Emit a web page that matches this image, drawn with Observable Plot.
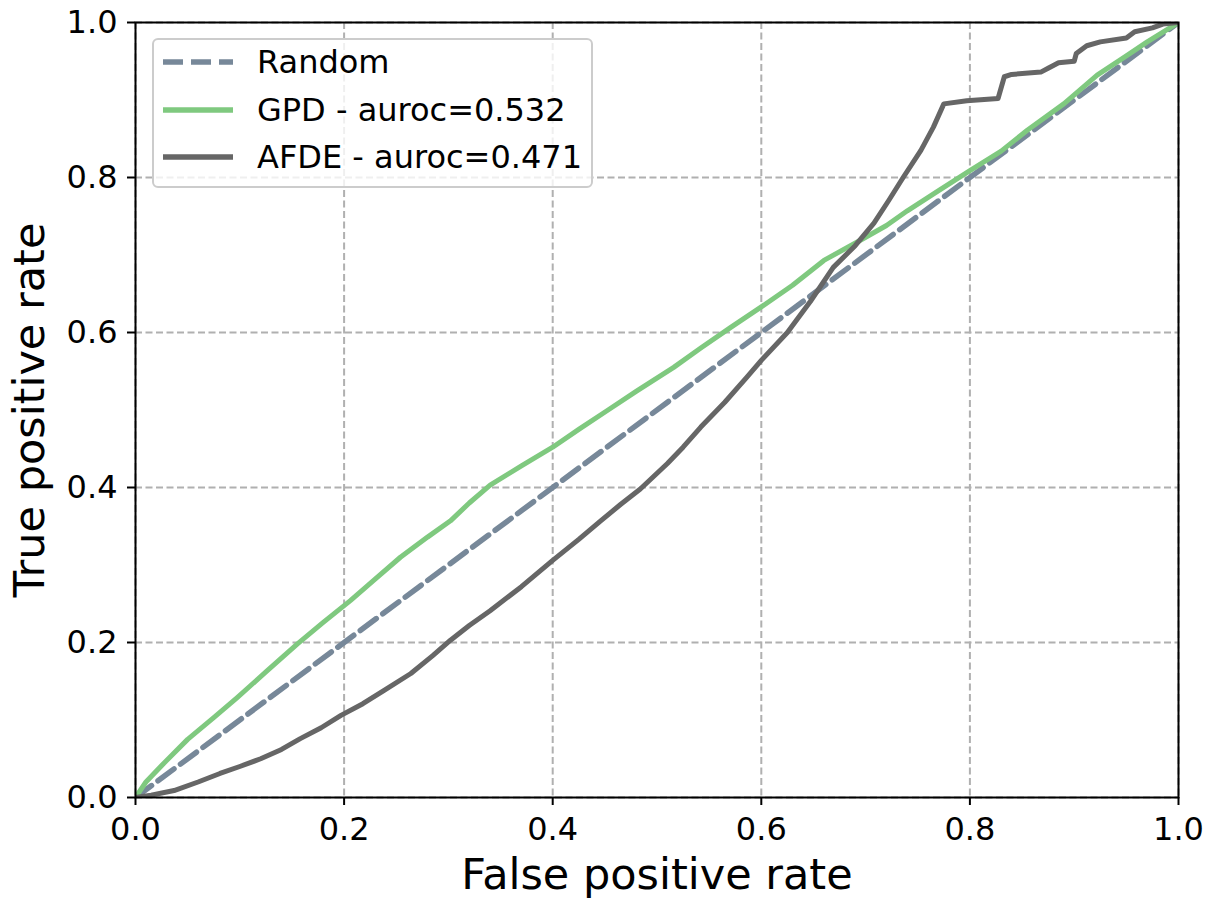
<!DOCTYPE html>
<html>
<head>
<meta charset="utf-8">
<script src="https://cdn.jsdelivr.net/npm/d3@7"></script>
<script src="https://cdn.jsdelivr.net/npm/@observablehq/plot@0.6"></script>
<style>
  body { margin: 0; background: white; font-family: "DejaVu Sans", sans-serif; }
  #wrap { position: relative; width: 1213px; height: 906px; }
  #legend { position: absolute; left: 152px; top: 38px; width: 441px; height: 150px; box-sizing: border-box;
    border: 2px solid #cccccc; border-radius: 6px; background: rgba(255,255,255,0.8); }
  .row { position: absolute; left: 0; height: 40px; display: flex; align-items: center; font-size: 32px; color: black; white-space: nowrap; }
  .row svg { margin-left: 9px; margin-right: 24px; }
</style>
</head>
<body>
<div id="wrap"></div>
<script>
// ---- data ----
const tickValues = [0, 0.2, 0.4, 0.6, 0.8, 1.0];
const xLabel = "False positive rate";
const yLabel = "True positive rate";

const seriesNames = ["Random", "GPD - auroc=0.532", "AFDE - auroc=0.471"];
const seriesColors = ["#778899", "#7fc97f", "#666666"];

const randomFpr = [0, 1];
const randomTpr = [0, 1];

const gpdFpr = [0, 0.01, 0.027, 0.05, 0.075, 0.0975, 0.125, 0.155, 0.18, 0.206, 0.23, 0.254, 0.28, 0.302, 0.32, 0.340, 0.37, 0.4, 0.425, 0.452, 0.48, 0.516, 0.542, 0.57, 0.6, 0.63, 0.660, 0.695, 0.72, 0.740, 0.77, 0.80, 0.83, 0.855, 0.89, 0.922, 0.95, 0.970, 1.0];
const gpdTpr = [0, 0.02, 0.044, 0.075, 0.103, 0.129, 0.162, 0.198, 0.226, 0.254, 0.282, 0.310, 0.336, 0.357, 0.380, 0.403, 0.428, 0.452, 0.475, 0.499, 0.524, 0.555, 0.580, 0.606, 0.633, 0.661, 0.693, 0.719, 0.738, 0.757, 0.783, 0.809, 0.834, 0.861, 0.895, 0.932, 0.957, 0.975, 1.0];

const afdeFpr = [0, 0.015, 0.037, 0.06, 0.081, 0.10, 0.12, 0.14, 0.158, 0.178, 0.197, 0.218, 0.238, 0.264, 0.285, 0.302, 0.320, 0.340, 0.37, 0.4, 0.425, 0.446, 0.465, 0.484, 0.510, 0.525, 0.542, 0.565, 0.586, 0.6, 0.625, 0.647, 0.669, 0.69, 0.708, 0.722, 0.736, 0.753, 0.765, 0.775, 0.797, 0.827, 0.833, 0.84, 0.868, 0.875, 0.885, 0.900, 0.902, 0.912, 0.925, 0.95, 0.958, 0.975, 0.985, 1.0];
const afdeTpr = [0, 0.003, 0.009, 0.020, 0.031, 0.040, 0.050, 0.062, 0.076, 0.090, 0.106, 0.121, 0.138, 0.160, 0.183, 0.203, 0.222, 0.241, 0.272, 0.306, 0.333, 0.357, 0.378, 0.398, 0.431, 0.452, 0.478, 0.510, 0.542, 0.564, 0.600, 0.640, 0.684, 0.712, 0.741, 0.770, 0.800, 0.835, 0.865, 0.895, 0.899, 0.902, 0.930, 0.933, 0.936, 0.941, 0.948, 0.950, 0.960, 0.970, 0.975, 0.980, 0.988, 0.993, 0.998, 1.0];

// ---- build tables ----
const toRows = (xs, ys) => xs.map((x, i) => ({fpr: x, tpr: ys[i]}));
const randomData = toRows(randomFpr, randomTpr);
const gpdData = toRows(gpdFpr, gpdTpr);
const afdeData = toRows(afdeFpr, afdeTpr);

const chart = Plot.plot({
  width: 1213,
  height: 906,
  marginLeft: 135,
  marginRight: 35,
  marginTop: 22,
  marginBottom: 109,
  x: {domain: [0, 1], label: null},
  y: {domain: [0, 1], label: null},
  style: {fontFamily: "DejaVu Sans", fontSize: "32px", color: "black", background: "white", overflow: "visible"},
  marks: [
    Plot.gridX(tickValues, {stroke: "#b0b0b0", strokeOpacity: 1, strokeWidth: 2, strokeDasharray: "7,3.5"}),
    Plot.gridY(tickValues, {stroke: "#b0b0b0", strokeOpacity: 1, strokeWidth: 2, strokeDasharray: "7,3.5"}),
    Plot.line(randomData, {x: "fpr", y: "tpr", stroke: seriesColors[0], strokeWidth: 5.5, strokeDasharray: "20,8", clip: true}),
    Plot.line(gpdData, {x: "fpr", y: "tpr", stroke: seriesColors[1], strokeWidth: 5, clip: true}),
    Plot.line(afdeData, {x: "fpr", y: "tpr", stroke: seriesColors[2], strokeWidth: 5, clip: true}),
    Plot.frame({stroke: "black", strokeWidth: 2}),
    Plot.axisX(tickValues, {tickSize: 8, tickPadding: 12, strokeWidth: 2, tickFormat: d3.format(".1f"), label: null}),
    Plot.axisY(tickValues, {tickSize: 8, tickPadding: 10, strokeWidth: 2, tickFormat: d3.format(".1f"), label: null}),
    Plot.text([xLabel], {text: d => d, frameAnchor: "bottom", textAnchor: "middle", lineAnchor: "middle", dy: 78, fontSize: 43, fill: "black"}),
    Plot.text([yLabel], {text: d => d, frameAnchor: "left", textAnchor: "middle", lineAnchor: "middle", dx: -105, rotate: -90, fontSize: 43, fill: "black"})
  ]
});

const wrap = document.getElementById("wrap");
wrap.appendChild(chart);

// legend overlay
const legend = document.createElement("div");
legend.id = "legend";
const rowCenters = [24, 72, 119];
seriesNames.forEach((name, i) => {
  const row = document.createElement("div");
  row.className = "row";
  row.style.top = (rowCenters[i] - 2 - 20) + "px";
  const dash = i === 0 ? 'stroke-dasharray="20,8"' : "";
  row.innerHTML = `<svg width="70" height="12"><line x1="0" y1="6" x2="70" y2="6" stroke="${seriesColors[i]}" stroke-width="5.5" ${dash}/></svg><span>${name}</span>`;
  legend.appendChild(row);
});
wrap.appendChild(legend);
</script>
</body>
</html>
